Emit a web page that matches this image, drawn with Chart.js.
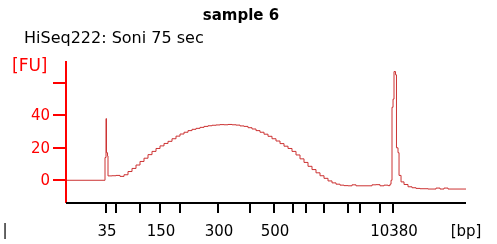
<!DOCTYPE html>
<html>
<head>
<meta charset="utf-8">
<script src="https://cdn.jsdelivr.net/npm/chart.js@4"></script>
<style>
  body { margin: 0; background: #fff; }
  #wrap { width: 497px; height: 244px; }
</style>
</head>
<body>
<div id="wrap"><canvas id="electroChart" width="497" height="244"></canvas></div>
<script>
// migration time (s) and fluorescence (FU)
const times = [20, 24.75, 24.875, 25.0, 25.06, 25.19, 25.25,
    25.75, 26.25, 26.75, 27.25, 27.75, 28.25, 28.75, 29.25, 29.75, 30.25,
    30.75, 31.25, 31.75, 32.25, 32.75, 33.25, 33.75, 34.25, 34.75, 35.25,
    35.75, 36.25, 36.75, 37.25, 37.75, 38.25, 38.75, 39.25, 39.75, 40.25,
    40.75, 41.25, 41.75, 42.25, 42.75, 43.25, 43.75, 44.25, 44.75, 45.25,
    45.75, 46.25, 46.75, 47.25, 47.75, 48.25, 48.75, 49.25, 49.75, 50.25,
    50.75, 51.25, 51.75, 52.25, 52.75, 53.25, 53.75, 54.25, 54.75, 55.25,
    55.75, 56.25, 56.75, 57.25, 57.75, 58.25, 58.75, 59.25, 59.75, 60.25,
    60.5, 60.63, 60.75, 60.88, 61.0, 61.19, 61.31, 61.5, 61.63, 61.88,
    62.25, 62.75, 63.25, 63.75, 64.25, 65.25, 66.25, 66.75, 67.25, 67.75, 70];
const fu = [0, 0, 14, 38, 17, 15, 2.7,
    2.8, 3.0, 2.4, 3.4, 5.4, 7.3, 9.4, 11.6, 13.6, 15.8,
    17.8, 19.6, 21.2, 22.7, 24.0, 25.6, 27.2, 28.5, 29.6, 30.6,
    31.4, 32.0, 32.6, 33.2, 33.6, 33.9, 34.1, 34.3, 34.2, 34.4,
    34.2, 34.0, 33.5, 33.2, 32.4, 31.6, 30.6, 29.6, 28.4, 27.1,
    25.6, 24.2, 22.6, 21.0, 19.6, 17.8, 15.6, 13.2, 11.0, 8.6,
    6.6, 4.6, 2.8, 1.2, -0.4, -1.6, -2.4, -3.0, -3.3, -3.4,
    -2.8, -3.4, -3.4, -3.4, -3.4, -2.8, -2.7, -3.4, -3.0, -3.3,
    -2.4, 0, 45, 50, 67, 65, 20, 17, 3, -1,
    -2.6, -4.0, -4.6, -5.0, -5.2, -5.4, -4.8, -5.4, -4.8, -5.4, -5.4];

// ladder peaks: size (bp) and where they sit on the time axis
const ladderSizes = [35, 50, 100, 150, 200, 300, 400, 500, 600, 700, 1000, 2000, 3000, 7000, 10380];
const ladderTimes = [25, 26.25, 29.25, 31.75, 34.25, 39, 43, 46, 48.4, 50, 52.25, 55.25, 56.75, 59.25, 60.9];
const labeledSizes = [35, 150, 300, 500, 10380];
const yTicks = [0, 20, 40, 60];
const yLabeled = [0, 20, 40];

const axisFont = '15px "DejaVu Sans"';

const axesPlugin = {
    id: 'bioAxes',
    afterDraw(chart) {
        const c = chart.ctx;
        const xs = chart.scales.x, ys = chart.scales.y;
        const area = chart.chartArea;
        c.save();

        // titles
        c.fillStyle = '#000';
        c.font = 'bold 15px "DejaVu Sans"';
        c.textAlign = 'center';
        c.textBaseline = 'alphabetic';
        c.fillText('sample 6', 241, 20);
        c.font = '16px "DejaVu Sans"';
        c.textAlign = 'left';
        c.fillText('HiSeq222: Soni 75 sec', 24, 43);

        // y axis (red)
        c.strokeStyle = '#ff0000';
        c.fillStyle = '#ff0000';
        c.lineWidth = 2;
        c.beginPath();
        c.moveTo(area.left, area.top);
        c.lineTo(area.left, area.bottom);
        c.stroke();
        c.font = axisFont;
        c.textAlign = 'right';
        c.textBaseline = 'middle';
        yTicks.forEach(v => {
            const py = Math.round(ys.getPixelForValue(v));
            c.beginPath();
            c.moveTo(area.left - 13, py);
            c.lineTo(area.left, py);
            c.stroke();
            if (yLabeled.includes(v)) c.fillText(String(v), 50, py + 1);
        });
        c.font = '17px "DejaVu Sans"';
        c.textAlign = 'left';
        c.textBaseline = 'alphabetic';
        c.fillText('[FU]', 12, 71);

        // x axis (black)
        c.strokeStyle = '#000';
        c.fillStyle = '#000';
        c.beginPath();
        c.moveTo(area.left, area.bottom);
        c.lineTo(area.right, area.bottom);
        c.stroke();
        c.font = axisFont;
        c.textAlign = 'center';
        c.textBaseline = 'middle';
        ladderTimes.forEach((t, i) => {
            const px = Math.round(xs.getPixelForValue(t));
            c.beginPath();
            c.moveTo(px, area.bottom);
            c.lineTo(px, area.bottom + 10);
            c.stroke();
            if (labeledSizes.includes(ladderSizes[i])) c.fillText(String(ladderSizes[i]), px + 1, 232);
        });
        c.fillText('[bp]', 466, 232);
        c.fillText('|', 5, 231);
        c.restore();
    }
};

new Chart(document.getElementById('electroChart').getContext('2d'), {
    type: 'line',
    data: {
        datasets: [{
            data: times.map((t, i) => ({ x: t, y: fu[i] })),
            borderColor: '#cc3333',
            borderWidth: 1,
            pointRadius: 0,
            stepped: true,
            fill: false
        }]
    },
    options: {
        responsive: false,
        animation: false,
        events: [],
        layout: { padding: { left: 66, right: 31, top: 61, bottom: 41 } },
        plugins: { legend: { display: false }, tooltip: { enabled: false } },
        scales: {
            x: { type: 'linear', min: 20, max: 70, display: false },
            y: { min: -14, max: 73.5, display: false }
        }
    },
    plugins: [axesPlugin]
});
</script>
</body>
</html>
